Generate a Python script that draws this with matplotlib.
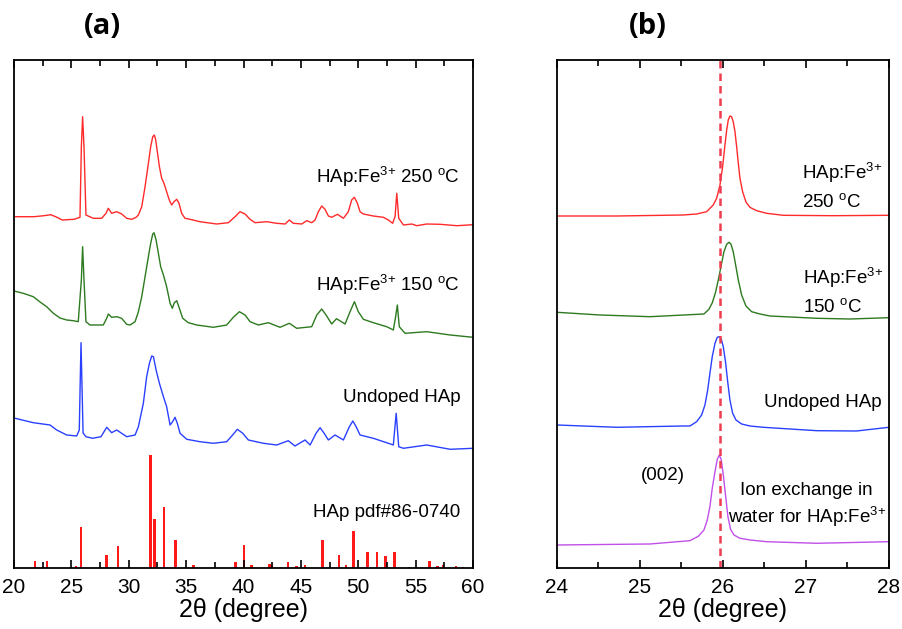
import matplotlib
matplotlib.use('Agg')
import matplotlib.pyplot as plt
from matplotlib.ticker import MultipleLocator

plt.rcParams['font.family'] = ['Liberation Sans', 'DejaVu Sans']
plt.rcParams['mathtext.fontset'] = 'custom'
plt.rcParams['mathtext.rm'] = 'Liberation Sans'
plt.rcParams['mathtext.it'] = 'Liberation Sans:italic'

# ---- panel (a): full patterns, intensity in a.u. (offset stack) ----
a_red_x = [20.0, 21.74, 22.61, 23.19, 23.63, 24.21, 25.23, 25.75, 25.87, 25.98, 26.1, 26.27, 26.91,
           27.64, 28.02, 28.22, 28.51, 28.95, 29.38, 29.82, 30.26, 30.64, 30.84, 31.13, 31.42, 31.71,
           31.91, 32.09, 32.23, 32.35, 32.49, 32.67, 32.87, 33.07, 33.3, 33.53, 33.74, 33.94, 34.18,
           34.38, 34.61, 34.9, 35.34, 36.2, 37.66, 38.68, 39.26, 39.69, 40.13, 40.57, 41.0, 42.02,
           42.89, 43.62, 43.99, 44.34, 45.07, 45.51, 45.94, 46.23, 46.52, 46.81, 47.1, 47.39, 47.68,
           48.18, 48.7, 49.13, 49.42, 49.66, 49.92, 50.15, 50.44, 51.31, 52.18, 52.62, 52.99, 53.2,
           53.35, 53.52, 53.93, 54.66, 55.09, 55.96, 57.12, 58.58, 60.0]
a_red_y = [351.3, 351.3, 352.3, 353.3, 351.3, 348, 348.7, 350.7, 421.3, 451.3, 421.3, 353, 349.7,
           349.7, 354.7, 359.7, 354.7, 356.3, 354, 349.7, 348.7, 350.7, 353, 361.3, 381.3, 404.7,
           421.3, 431.3, 433, 428, 416.3, 401.3, 389.7, 384.7, 376.3, 368, 363, 366.3, 368.7,
           364.7, 354.7, 349.7, 348.7, 346.3, 344, 345.3, 351.3, 356.3, 354, 348.7, 345.3, 346.3,
           344.7, 344, 348, 344.7, 344, 347.3, 345.3, 348, 356.3, 362, 358.7, 352, 350.7,
           353.7, 349.7, 356.3, 368, 370.7, 364.7, 356.3, 354, 352, 350.7, 348, 344.7, 351.3,
           374.7, 349.7, 343, 344, 342.3, 344, 343.7, 342.3, 343.3]

a_green_x = [20.0, 20.81, 21.68, 22.27, 22.85, 23.43, 24.01, 24.59, 25.17, 25.6, 25.87, 25.98, 26.1,
             26.27, 26.62, 27.78, 28.08, 28.22, 28.51, 28.95, 29.38, 29.82, 30.11, 30.55, 30.84, 31.13,
             31.42, 31.71, 31.91, 32.09, 32.2, 32.38, 32.58, 32.78, 33.02, 33.3, 33.6, 33.8, 33.97,
             34.18, 34.41, 34.7, 35.19, 35.92, 37.37, 38.53, 39.11, 39.64, 40.13, 40.57, 41.29, 42.16,
             43.18, 43.99, 44.63, 45.94, 46.38, 46.81, 47.19, 47.68, 48.1, 48.85, 49.28, 49.66, 50.0,
             50.44, 51.31, 52.47, 53.05, 53.25, 53.4, 53.57, 54.07, 55.96, 58.0, 60.0]
a_green_y = [277, 274.7, 271.3, 266, 261.3, 254.7, 250, 248, 247.3, 246.3, 288, 321.3, 288,
             246.3, 243, 243, 249.7, 254, 250.7, 251.3, 249.7, 243.7, 243, 246.3, 256.3, 271.3,
             291.3, 311.3, 324.7, 334, 335.3, 328, 314.7, 301.3, 293, 281.3, 264.7, 259.7, 265.3,
             267.3, 259.7, 249.7, 245.3, 243, 240.7, 243, 250.7, 256.3, 253, 246.3, 243, 245.3,
             240.7, 244.7, 239.7, 241.3, 253, 259, 253, 244, 249.3, 244, 256.3, 266.3, 256.3,
             248.7, 245.3, 241.3, 238, 251.3, 263, 241.3, 234.7, 236.3, 233, 230.7]

a_blue_x = [20.0, 21.68, 23.14, 23.72, 24.59, 25.46, 25.69, 25.76, 25.84, 25.93, 26.02, 26.27, 26.85,
            27.58, 28.08, 28.51, 28.95, 29.38, 29.82, 30.55, 30.84, 31.27, 31.56, 31.8, 32.0, 32.15,
            32.38, 32.67, 33.02, 33.3, 33.6, 33.82, 34.03, 34.23, 34.47, 35.05, 36.2, 37.37, 38.53,
            39.05, 39.46, 39.93, 40.42, 41.73, 42.89, 43.9, 44.48, 45.36, 45.8, 46.32, 46.67, 47.02,
            47.39, 47.97, 48.7, 49.22, 49.52, 49.81, 50.15, 51.31, 52.62, 53.05, 53.3, 53.52, 53.93,
            55.96, 58.0, 60.0]
a_blue_y = [150, 145.3, 143, 138, 133, 132, 138, 180, 225.3, 180, 135, 131.3, 129.7,
            131.3, 140.7, 135.3, 138, 134.7, 131.3, 133, 141.3, 164.7, 191.3, 204.7, 212, 211.3,
            198, 184.7, 171.3, 161.3, 143, 146.3, 150.7, 144.7, 134.7, 128.7, 126.3, 124.7, 126.3,
            133, 138.7, 134.7, 128, 124.7, 123, 127.3, 122, 128, 123, 134.7, 140.3, 134.7,
            128, 133, 128, 141.3, 147, 141.3, 133, 129.7, 124.7, 123, 154.7, 121.3, 119.7,
            123, 118.7, 119.7]

# reference pattern HAp pdf#86-0740
pdf_pos = [21.83, 22.88, 25.4, 25.85, 28.08, 29.06, 31.88, 32.23, 33.07, 34.09, 35.63, 39.29, 40.05,
           40.71, 42.25, 42.45, 43.88, 44.63, 45.36, 46.87, 48.32, 48.93, 49.57, 50.82, 51.63, 52.36,
           53.14, 54.4, 56.19, 56.9, 57.36, 58.52, 59.1]
pdf_int = [7.3, 7.3, 1.7, 41, 13.3, 22.3, 113.3, 49.3, 61.3, 27.7, 3.3, 6, 23.3,
           3.3, 4.3, 3.3, 6, 1.7, 3.3, 28.3, 13.3, 3.3, 36.7, 15.7, 15.7, 11.7,
           15.7, 0.7, 6.7, 1.7, 3.3, 1.7, 1]

# ---- panel (b): zoom on (002) ----
b_red_x = [24.0, 24.72, 25.52, 25.683, 25.803, 25.883, 25.924, 25.964, 25.996, 26.024, 26.045, 26.064,
           26.084, 26.104, 26.124, 26.145, 26.165, 26.185, 26.205, 26.237, 26.277, 26.325, 26.406,
           26.526, 26.727, 27.33, 28.0]
b_red_y = [352, 352, 353, 354, 356.3, 363, 369.7, 383, 401.3, 423, 438, 448,
           452, 451.3, 446.3, 436.3, 421.3, 404.7, 389.7, 376.3, 366, 360.7, 357.3,
           354.7, 352.7, 352.3, 352.7]
b_green_x = [24.0, 24.52, 25.12, 25.771, 25.831, 25.872, 25.912, 25.952, 25.984, 26.012, 26.045, 26.072,
             26.096, 26.124, 26.153, 26.185, 26.225, 26.277, 26.346, 26.446, 26.566, 27.13, 27.53, 28.0]
b_green_y = [255.7, 253, 251.3, 254, 258.7, 265.3, 276, 291.3, 304.7, 316.3, 323.7, 325.7,
             324, 316.3, 303, 288, 273, 262, 256.3, 254, 252, 249.7, 249, 250.3]
b_blue_x = [24.0, 24.72, 25.52, 25.602, 25.683, 25.743, 25.783, 25.816, 25.843, 25.871, 25.904, 25.932,
            25.956, 25.98, 26.004, 26.033, 26.057, 26.084, 26.117, 26.157, 26.225, 26.325, 26.486,
            27.13, 27.61, 28.0]
b_blue_y = [143, 140.7, 142, 142, 146.3, 153, 163, 178, 194.7, 211.3, 224.7, 230.7,
            231.3, 228.7, 221.3, 204.7, 186.3, 168, 154.7, 148, 144, 142, 140.7,
            137.3, 137, 140.7]
b_mag_x = [24.0, 25.12, 25.602, 25.703, 25.771, 25.811, 25.843, 25.871, 25.904, 25.932, 25.956, 25.98,
           26.004, 26.033, 26.06, 26.092, 26.133, 26.205, 26.325, 26.526, 27.13, 28.0]
b_mag_y = [23, 24, 27.3, 31.7, 38, 48, 61.3, 79.7, 96.3, 108.7, 113, 108,
           93, 71.3, 51.3, 38.7, 33, 29.7, 28, 26.3, 24.7, 26.3]

ref_002 = 25.97

red = '#ff2a2a'
green = '#2d7a1f'
blue = '#2a40ff'
mag = '#c050e8'

fig = plt.figure(figsize=(9.02, 6.29), dpi=100)
ax1 = fig.add_axes([0.0155, 0.097, 0.509, 0.8076])
ax2 = fig.add_axes([0.6175, 0.097, 0.368, 0.8076])

ax1.plot(a_red_x, a_red_y, color=red, lw=1.0)
ax1.plot(a_green_x, a_green_y, color=green, lw=1.0)
ax1.plot(a_blue_x, a_blue_y, color=blue, lw=1.0)
ax1.bar(pdf_pos, pdf_int, width=0.22, color='#ff1a1a')
ax1.set_xlim(20, 60)
ax1.set_ylim(0, 508)
ax1.xaxis.set_major_locator(MultipleLocator(5))
ax1.xaxis.set_minor_locator(MultipleLocator(2.5))

ax2.plot(b_red_x, b_red_y, color=red, lw=1.0)
ax2.plot(b_green_x, b_green_y, color=green, lw=1.0)
ax2.plot(b_blue_x, b_blue_y, color=blue, lw=1.0)
ax2.plot(b_mag_x, b_mag_y, color=mag, lw=1.0)
ax2.axvline(ref_002, color='#f03c50', lw=1.8, ls=(0, (3, 2)))
ax2.set_xlim(24, 28)
ax2.set_ylim(0, 508)
ax2.xaxis.set_major_locator(MultipleLocator(1))
ax2.xaxis.set_minor_locator(MultipleLocator(0.5))

for ax in (ax1, ax2):
    ax.tick_params(axis='x', which='both', direction='in', top=True, labelsize=15, pad=7)
    ax.tick_params(axis='x', which='major', length=6, width=1.2)
    ax.tick_params(axis='x', which='minor', length=4, width=1.2)
    ax.tick_params(axis='y', left=False, labelleft=False)
    for s in ax.spines.values():
        s.set_linewidth(1.3)
    ax.set_xlabel('2θ (degree)', fontsize=18, labelpad=1)

fs = 13.5
fe = r'HAp:Fe$^{3{+}}$'
ax1.text(58.87, 391, fe + r' 250 $^{\rm o}$C', ha='right', va='center', fontsize=fs)
ax1.text(58.87, 283, fe + r' 150 $^{\rm o}$C', ha='right', va='center', fontsize=fs)
ax1.text(58.87, 170, 'Undoped HAp', ha='right', va='center', fontsize=fs)
ax1.text(58.87, 55, 'HAp pdf#86-0740', ha='right', va='center', fontsize=fs)

ax2.text(26.95, 395, fe, ha='left', va='center', fontsize=fs)
ax2.text(26.95, 366, r'250 $^{\rm o}$C', ha='left', va='center', fontsize=fs)
ax2.text(26.96, 290, fe, ha='left', va='center', fontsize=fs)
ax2.text(26.96, 261, r'150 $^{\rm o}$C', ha='left', va='center', fontsize=fs)
ax2.text(27.91, 165, 'Undoped HAp', ha='right', va='center', fontsize=fs)
ax2.text(25.28, 92, '(002)', ha='center', va='center', fontsize=fs)
ax2.text(27.0, 77.3, 'Ion exchange in', ha='center', va='center', fontsize=fs)
ax2.text(27.02, 51.3, r'water for HAp:Fe$^{3{+}}$', ha='center', va='center', fontsize=fs)

fig.text(102 / 902, 1 - 26 / 629, '(a)', ha='center', va='center', fontsize=21,
         fontweight='bold', family=['Open Sans', 'DejaVu Sans'])
fig.text(648 / 902, 1 - 26 / 629, '(b)', ha='center', va='center', fontsize=21,
         fontweight='bold', family=['Open Sans', 'DejaVu Sans'])

fig.savefig('out.png', dpi=100)
